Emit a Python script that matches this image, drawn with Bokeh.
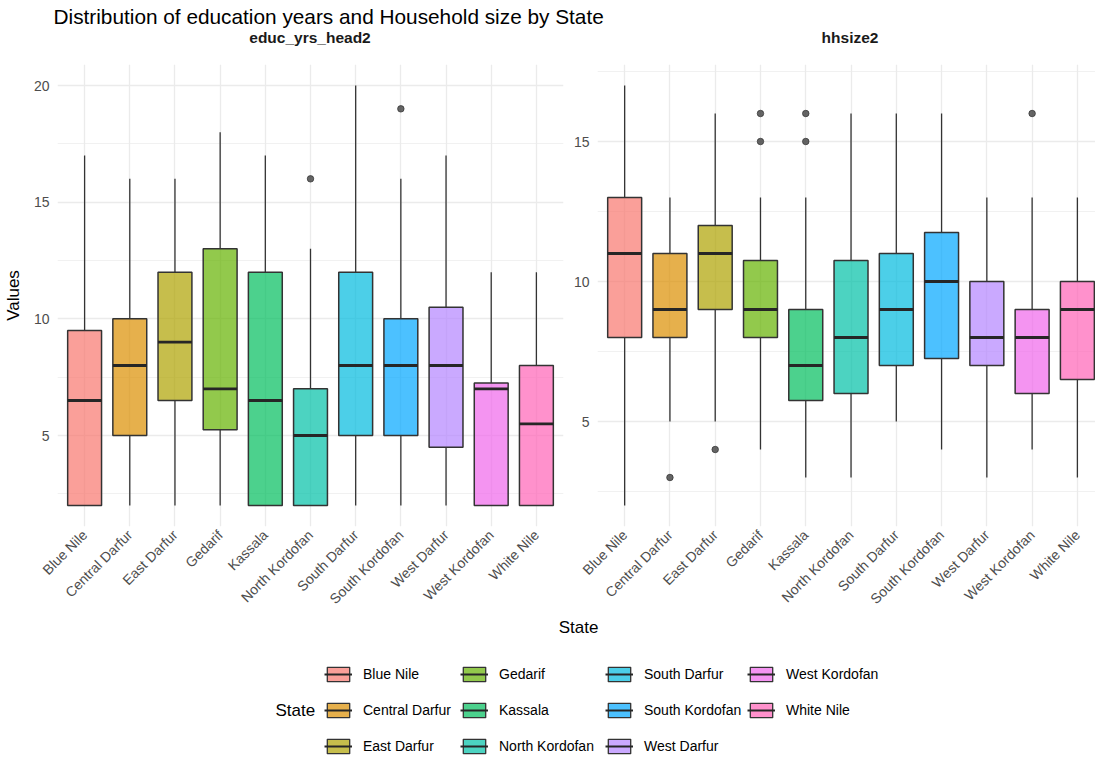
import math

from bokeh.core.properties import value
from bokeh.embed import file_html
from bokeh.layouts import column, row
from bokeh.models import ColumnDataSource, FixedTicker, Legend, LegendItem, Range1d
from bokeh.plotting import figure
from bokeh.resources import INLINE

FONT = "Liberation Sans"

# ---------------------------------------------------------------- data
states = ["Blue Nile", "Central Darfur", "East Darfur", "Gedarif", "Kassala",
          "North Kordofan", "South Darfur", "South Kordofan", "West Darfur",
          "West Kordofan", "White Nile"]
state_colors = ["#F8766D", "#DB8E00", "#AEA200", "#64B200", "#00BD5C", "#00C1A7",
                "#00BADE", "#00A6FF", "#B385FF", "#EF67EB", "#FF63B6"]

# educ_yrs_head2: whisker ends, quartiles and medians per state
educ_lower = [2, 2, 2, 2, 2, 2, 2, 2, 2, 2, 2]
educ_q1 = [2, 5, 6.5, 5.25, 2, 2, 5, 5, 4.5, 2, 2]
educ_median = [6.5, 8, 9, 7, 6.5, 5, 8, 8, 8, 7, 5.5]
educ_q3 = [9.5, 10, 12, 13, 12, 7, 12, 10, 10.5, 7.25, 8]
educ_upper = [17, 16, 16, 18, 17, 13, 20, 16, 17, 12, 12]
educ_out_states = ["North Kordofan", "South Kordofan"]
educ_out_values = [16, 19]
educ_ticks = [5, 10, 15, 20]

# hhsize2
hh_lower = [2, 5, 5, 4, 3, 3, 5, 4, 3, 4, 3]
hh_q1 = [8, 8, 9, 8, 5.75, 6, 7, 7.25, 7, 6, 6.5]
hh_median = [11, 9, 11, 9, 7, 8, 9, 10, 8, 8, 9]
hh_q3 = [13, 11, 12, 10.75, 9, 10.75, 11, 11.75, 10, 9, 10]
hh_upper = [17, 13, 16, 13, 13, 16, 16, 16, 13, 13, 13]
hh_out_states = ["Central Darfur", "East Darfur", "Gedarif", "Gedarif",
                 "Kassala", "Kassala", "West Kordofan"]
hh_out_values = [3, 4, 15, 16, 15, 16, 16]
hh_ticks = [5, 10, 15]

panel_titles = ["educ_yrs_head2", "hhsize2"]
main_title = "Distribution of education years and Household size by State"

# ---------------------------------------------------------------- layout
BOX_WIDTH = 0.75
xs = list(range(1, len(states) + 1))

HEAD_H = 64
PANEL_H = 551
LEGEND_H = 142
BOTTOM_BORDER = 87

LEFT_W, LEFT_BL, LEFT_BR = 570, 56, 7
RIGHT_W, RIGHT_BL, RIGHT_BR = 525, 25, 0

GRID = "#EBEBEB"
INK = "#333333"


def box_source(lower, q1, med, q3, upper):
    return ColumnDataSource(dict(
        x=xs, lower=lower, q1=q1, med=med, q3=q3, upper=upper,
        left=[x - BOX_WIDTH / 2 for x in xs],
        right=[x + BOX_WIDTH / 2 for x in xs],
        color=state_colors,
    ))


def panel(src, out_states, out_values, ticks, y0, y1, x_end, width, bl, br):
    p = figure(width=width, height=PANEL_H,
               x_range=Range1d(0.4, x_end), y_range=Range1d(y0, y1),
               output_backend="svg", toolbar_location=None,
               min_border_left=bl, min_border_right=br,
               min_border_top=0, min_border_bottom=BOTTOM_BORDER)
    p.outline_line_color = None
    p.background_fill_color = "white"
    p.border_fill_color = "white"

    # whiskers, then boxes, then medians on top
    p.segment(x0="x", y0="q3", x1="x", y1="upper", source=src,
              line_color=INK, line_width=1.3)
    p.segment(x0="x", y0="lower", x1="x", y1="q1", source=src,
              line_color=INK, line_width=1.3)
    p.vbar(x="x", width=BOX_WIDTH, bottom="q1", top="q3", source=src,
           fill_color="color", fill_alpha=0.7, line_color=INK, line_width=1.5)
    p.segment(x0="left", y0="med", x1="right", y1="med", source=src,
              line_color="#262626", line_width=2.8, line_cap="butt")

    ox = [xs[states.index(s)] for s in out_states]
    p.scatter(x=ox, y=out_values, size=6.5, fill_color=INK, line_color=INK,
              fill_alpha=0.75, line_alpha=0.75)

    minor = [t - 2.5 for t in ticks] + [ticks[-1] + 2.5]
    p.yaxis.ticker = FixedTicker(ticks=ticks, minor_ticks=minor)
    p.xaxis.ticker = FixedTicker(ticks=xs)
    p.xaxis.major_label_overrides = {x: s for x, s in zip(xs, states)}
    p.xaxis.major_label_orientation = math.pi / 4

    for ax in p.axis:
        ax.axis_line_color = None
        ax.major_tick_line_color = None
        ax.minor_tick_line_color = None
        ax.major_tick_out = 0
        ax.major_tick_in = 0
        ax.minor_tick_out = 0
        ax.minor_tick_in = 0
        ax.major_label_text_font = FONT
        ax.major_label_text_font_size = "14px"
        ax.major_label_text_color = "#4D4D4D"
    p.yaxis.major_label_standoff = 8
    p.xaxis.major_label_standoff = 6

    p.grid.grid_line_color = GRID
    p.grid.grid_line_width = 1.3
    p.ygrid.minor_grid_line_color = GRID
    p.ygrid.minor_grid_line_width = 0.7
    return p


educ_src = box_source(educ_lower, educ_q1, educ_median, educ_q3, educ_upper)
hh_src = box_source(hh_lower, hh_q1, hh_median, hh_q3, hh_upper)

p_left = panel(educ_src, educ_out_states, educ_out_values, educ_ticks,
               1.1, 20.9, 11.6, LEFT_W, LEFT_BL, LEFT_BR)
p_left.yaxis.axis_label = "Values"
p_left.yaxis.axis_label_text_font = FONT
p_left.yaxis.axis_label_text_font_size = "17px"
p_left.yaxis.axis_label_text_font_style = "normal"
p_left.yaxis.axis_label_text_color = "black"
p_left.yaxis.axis_label_standoff = 8

p_right = panel(hh_src, hh_out_states, hh_out_values, hh_ticks,
                1.25, 17.75, 11.4, RIGHT_W, RIGHT_BL, RIGHT_BR)

# ---------------------------------------------------------------- header: title + facet strips
head = figure(width=1095, height=HEAD_H, x_range=Range1d(0, 1095), y_range=Range1d(0, HEAD_H),
              x_axis_type=None, y_axis_type=None, output_backend="svg",
              toolbar_location=None, min_border=0)
head.outline_line_color = None
head.text(x=[53], y=[HEAD_H - 16], text=[main_title], text_font=value(FONT),
          text_font_size="20.8px", text_color="black", text_align="left",
          text_baseline="middle")

left_frame_w = LEFT_W - LEFT_BL - LEFT_BR
right_unit = (RIGHT_W - RIGHT_BL - RIGHT_BR) / (11.4 - 0.4)
strip_x = [LEFT_BL + left_frame_w / 2,
           LEFT_W + RIGHT_BL + right_unit * 11.2 / 2]
head.text(x=strip_x, y=[HEAD_H - 37] * 2, text=panel_titles, text_font=value(FONT),
          text_font_size="15.5px", text_font_style="bold", text_color="#1A1A1A",
          text_align="center", text_baseline="middle")

# ---------------------------------------------------------------- bottom: axis title + legend
leg = figure(width=1095, height=LEGEND_H, x_range=Range1d(0, 1095), y_range=Range1d(0, LEGEND_H),
             x_axis_type=None, y_axis_type=None, output_backend="svg",
             toolbar_location=None, min_border=0)
leg.outline_line_color = None
leg.text(x=[578], y=[LEGEND_H - 12], text=["State"], text_font=value(FONT),
         text_font_size="17px", text_color="black", text_align="center",
         text_baseline="middle")
leg.text(x=[275], y=[LEGEND_H - 94.5], text=["State"], text_font=value(FONT),
         text_font_size="17px", text_color="black", text_align="left",
         text_baseline="middle")

# legend keys reuse the box styling (hidden renderers, drawn only in the legend)
key_box = leg.vbar(x="x", width=BOX_WIDTH, bottom="q1", top="q3", source=educ_src,
                   fill_color="color", fill_alpha=0.7, line_color=INK, line_width=1.3)
key_med = leg.segment(x0="left", y0="med", x1="right", y1="med", source=educ_src,
                      line_color="#262626", line_width=2, line_cap="butt")
key_box.visible = False
key_med.visible = False

col_x = [324, 460, 605, 747]
ROWS = 3
for c, cx in enumerate(col_x):
    idx = list(range(c * ROWS, min(c * ROWS + ROWS, len(states))))
    items = [LegendItem(label=states[i], renderers=[key_box, key_med], index=i) for i in idx]
    n = len(idx)
    h = n * 18 + (n - 1) * 18
    lg = Legend(items=items, location=(cx, LEGEND_H - 50.3 - h),
                orientation="vertical", glyph_width=28, glyph_height=18,
                label_height=18, spacing=18, label_standoff=11, padding=0, margin=0,
                border_line_color=None, background_fill_alpha=0,
                label_text_font=FONT, label_text_font_size="14px",
                label_text_color="black")
    leg.add_layout(lg)

layout = column(head, row(p_left, p_right), leg)

with open("out.html", "w") as f:
    f.write(file_html(layout, INLINE))
